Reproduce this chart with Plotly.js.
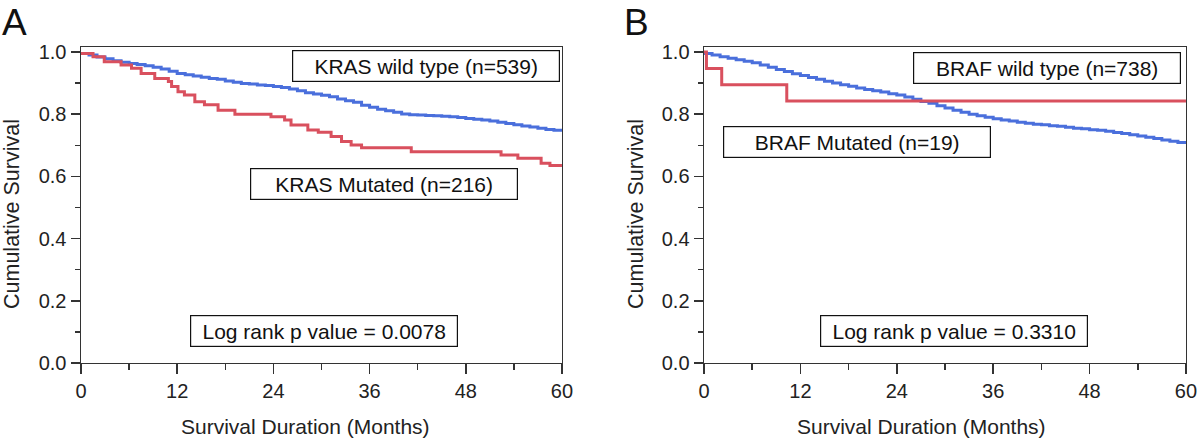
<!DOCTYPE html>
<html>
<head>
<meta charset="utf-8">
<script src="https://cdn.plot.ly/plotly-3.0.1.min.js"></script>
<style>html,body{margin:0;padding:0;background:#fff}#chart{width:1200px;height:441px}</style>
</head>
<body>
<div id="chart"></div>
<script>
// ---- Panel A: KRAS ----
const krasWildTime = [0,1,2,3,4,5,6,7,8,9,10,11,12,13,14,15,16,17,18,19,20,21,22,23,24,25,26,27,28,29,30,31,32,33,34,35,36,37,38,39,40,41,42,43,44,45,46,47,48,49,50,51,52,53,54,55,56,57,58,59,60];
const krasWildSurv = [0.995,0.99,0.984,0.978,0.972,0.967,0.963,0.96,0.956,0.951,0.945,0.938,0.931,0.927,0.923,0.919,0.915,0.912,0.907,0.903,0.899,0.897,0.894,0.892,0.889,0.886,0.881,0.875,0.869,0.865,0.861,0.856,0.849,0.843,0.838,0.829,0.822,0.816,0.811,0.806,0.801,0.798,0.797,0.796,0.795,0.793,0.792,0.789,0.786,0.784,0.781,0.778,0.774,0.77,0.766,0.762,0.759,0.755,0.751,0.748,0.745];
const krasMutTime = [0,1.5,2.9,5.0,6.3,7.5,9.2,10.9,11.3,12.1,12.9,14.2,15.4,17.1,19.2,23.7,25.4,26.2,28.3,29.6,31.2,32.5,33.7,35.0,41.2,52.4,54.5,57.4,58.5,60];
const krasMutSurv = [0.995,0.985,0.969,0.958,0.948,0.931,0.915,0.905,0.889,0.872,0.862,0.840,0.830,0.813,0.800,0.792,0.781,0.765,0.749,0.742,0.728,0.712,0.701,0.692,0.679,0.669,0.658,0.642,0.635,0.635];

// ---- Panel B: BRAF ----
const brafWildTime = [0,1,2,3,4,5,6,7,8,9,10,11,12,13,14,15,16,17,18,19,20,21,22,23,24,25,26,27,28,29,30,31,32,33,34,35,36,37,38,39,40,41,42,43,44,45,46,47,48,49,50,51,52,53,54,55,56,57,58,59,60];
const brafWildSurv = [0.995,0.99,0.985,0.98,0.975,0.97,0.965,0.958,0.951,0.944,0.937,0.93,0.924,0.918,0.912,0.906,0.9,0.895,0.89,0.884,0.879,0.875,0.871,0.866,0.862,0.855,0.848,0.841,0.835,0.827,0.82,0.813,0.806,0.8,0.795,0.79,0.785,0.781,0.778,0.774,0.771,0.768,0.766,0.763,0.761,0.758,0.755,0.753,0.75,0.748,0.745,0.741,0.738,0.734,0.73,0.726,0.722,0.717,0.713,0.709,0.705];
const brafMutTime = [0,0.3,2.2,10.3,60];
const brafMutSurv = [1.0,0.947,0.895,0.842,0.842];

const xTickVals = [0,12,24,36,48,60];
const yTickVals = [0,0.2,0.4,0.6,0.8,1.0];
const yTickText = ["0.0","0.2","0.4","0.6","0.8","1.0"];
const xTitle = "Survival Duration (Months)";
const yTitle = "Cumulative Survival";

const blue = "#4A6FDC";
const red = "#D9505E";
const FONT = "Liberation Sans, Arial, sans-serif";

function line(x, y, color, xa, ya) {
  return {x: x, y: y, type: "scatter", mode: "lines", line: {shape: "hv", color: color, width: 3}, xaxis: xa, yaxis: ya, hoverinfo: "skip"};
}

const data = [
  line(krasWildTime, krasWildSurv, blue, "x", "y"),
  line(krasMutTime, krasMutSurv, red, "x", "y"),
  line(brafWildTime, brafWildSurv, blue, "x2", "y2"),
  line(brafMutTime, brafMutSurv, red, "x2", "y2")
];

function xaxis(domain, anchor) {
  return {
    domain: domain, anchor: anchor, range: [0, 60], tickvals: xTickVals,
    showline: true, mirror: true, linecolor: "#333", linewidth: 1.5,
    ticks: "outside", ticklen: 10, tickwidth: 1.5, tickcolor: "#333",
    minor: {dtick: 6, ticks: "outside", ticklen: 6, tickwidth: 1.5, tickcolor: "#333", showgrid: false},
    showgrid: false, zeroline: false,
    tickfont: {family: FONT, size: 20, color: "#222"}
  };
}
function yaxis(domain, anchor) {
  return {
    domain: domain, anchor: anchor, range: [0, 1.016], tickvals: yTickVals, ticktext: yTickText,
    showline: true, mirror: true, linecolor: "#333", linewidth: 1.5,
    ticks: "outside", ticklen: 9, tickwidth: 1.5, tickcolor: "#333",
    minor: {dtick: 0.1, ticks: "outside", ticklen: 5, tickwidth: 1.5, tickcolor: "#333", showgrid: false},
    showgrid: false, zeroline: false,
    tickfont: {family: FONT, size: 20, color: "#222"}
  };
}

function box(text, xref, yref, x, y) {
  return {text: text, xref: xref, yref: yref, x: x, y: y, showarrow: false,
    width: 266, height: 30, borderpad: 0, bordercolor: "#111", borderwidth: 1.2, bgcolor: "#fff",
    font: {family: FONT, size: 21, color: "#111"}, xanchor: "center", yanchor: "middle"};
}
function label(text, x, y, size, angle) {
  return {text: text, xref: "paper", yref: "paper", x: x, y: y, showarrow: false,
    xanchor: "center", yanchor: "middle", textangle: angle || 0,
    font: {family: FONT, size: size, color: "#222"}};
}

const layout = {
  width: 1200, height: 441,
  margin: {l: 0, r: 0, t: 0, b: 0},
  paper_bgcolor: "#fff", plot_bgcolor: "#fff",
  showlegend: false,
  xaxis: xaxis([0.0675, 0.4683], "y"),
  yaxis: yaxis([0.1769, 0.8934], "x"),
  xaxis2: xaxis([0.5867, 0.9883], "y2"),
  yaxis2: yaxis([0.1769, 0.8934], "x2"),
  annotations: [
    box("KRAS wild type (n=539)", "x", "y", 43.0, 0.955),
    box("KRAS Mutated (n=216)", "x", "y", 37.8, 0.576),
    box("Log rank p value = 0.0078", "x", "y", 30.3, 0.103),
    box("BRAF wild type (n=738)", "x2", "y2", 42.7, 0.948),
    box("BRAF Mutated (n=19)", "x2", "y2", 19.1, 0.711),
    box("Log rank p value = 0.3310", "x2", "y2", 31.1, 0.103),
    label(xTitle, 305/1200, 1 - 426/441, 21),
    label(xTitle, 921/1200, 1 - 426/441, 21),
    label(yTitle, 12/1200, 1 - 214/441, 21.5, -90),
    label(yTitle, 636/1200, 1 - 214/441, 21.5, -90),
    {text: "A", xref: "paper", yref: "paper", x: 0.0, y: 1.0, xanchor: "left", yanchor: "top", showarrow: false,
     font: {family: FONT, size: 37, color: "#111"}},
    {text: "B", xref: "paper", yref: "paper", x: 0.518, y: 1.0, xanchor: "left", yanchor: "top", showarrow: false,
     font: {family: FONT, size: 37, color: "#111"}}
  ]
};

Plotly.newPlot("chart", data, layout, {staticPlot: true, displayModeBar: false});
</script>
</body>
</html>
